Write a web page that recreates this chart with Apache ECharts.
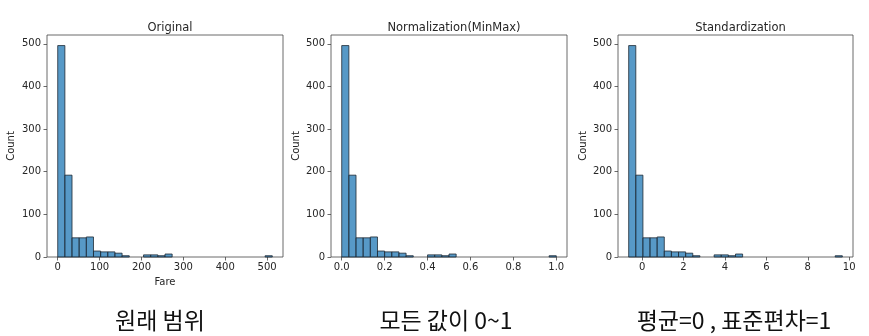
<!DOCTYPE html>
<html>
<head>
<meta charset="utf-8">
<script src="https://cdn.jsdelivr.net/npm/echarts@6/dist/echarts.min.js"></script>
<style>
html,body{margin:0;padding:0;background:#fff;}
#c{width:869px;height:336px;}
</style>
</head>
<body>
<div id="c"></div>
<script>
// Histogram counts (30 bins), same data in all three panels
const binCounts = [496, 192, 45, 45, 47, 14, 12, 12, 9, 3, 0, 0, 5, 5, 3, 7, 0, 0, 0, 0, 0, 0, 0, 0, 0, 0, 0, 0, 0, 3];
// Data ranges of each panel
const panelTitles = ['Original', 'Normalization(MinMax)', 'Standardization'];
const dataMin = [0, 0, -0.6484];
const dataMax = [512.3292, 1, 9.6670];
const xTicks = [
  [0, 100, 200, 300, 400, 500],
  [0, 0.2, 0.4, 0.6, 0.8, 1.0],
  [0, 2, 4, 6, 8, 10]
];
const xTickLabels = [
  ['0', '100', '200', '300', '400', '500'],
  ['0.0', '0.2', '0.4', '0.6', '0.8', '1.0'],
  ['0', '2', '4', '6', '8', '10']
];
const yTicks = [0, 100, 200, 300, 400, 500];
const xLabels = ['Fare', '', ''];
const captions = ['원래 범위', '모든 값이 0~1', '평균=0 , 표준편차=1'];

const gridPos = [
  {left: 47, width: 236},
  {left: 331, width: 236},
  {left: 618, width: 235}
];
const captionX = [160, 446, 734];
const countX = [11, 296, 583];
const font = 'DejaVu Sans';
const txt = '#262626';

const grids = [], xAxes = [], yAxes = [], series = [], titles = [], graphics = [];
const yMax = Math.max(...binCounts) * 1.05;

for (let p = 0; p < 3; p++) {
  const range = dataMax[p] - dataMin[p];
  const w = range / binCounts.length;
  const data = [];
  binCounts.forEach((c, i) => {
    if (c > 0) data.push([dataMin[p] + i * w, dataMin[p] + (i + 1) * w, c]);
  });
  grids.push({left: gridPos[p].left, width: gridPos[p].width, top: 35, height: 222,
    show: true, borderColor: '#444', borderWidth: 0.8, backgroundColor: 'transparent'});
  const labMap = {};
  xTicks[p].forEach((v, i) => labMap[v] = xTickLabels[p][i]);
  xAxes.push({
    type: 'value', gridIndex: p,
    min: dataMin[p] - 0.05 * range, max: dataMax[p] + 0.05 * range,
    splitLine: {show: false},
    axisLine: {show: false, onZero: false},
    axisTick: {show: true, length: 3.5, customValues: xTicks[p], lineStyle: {color: '#444', width: 0.8}},
    axisLabel: {customValues: xTicks[p], color: txt, fontFamily: font, fontSize: 10, margin: 5,
      formatter: v => { for (const k in labMap) { if (Math.abs(+k - v) < 1e-9) return labMap[k]; } return ''; }},
    name: xLabels[p], nameLocation: 'middle', nameGap: 20,
    nameTextStyle: {color: txt, fontFamily: font, fontSize: 10}
  });
  yAxes.push({
    type: 'value', gridIndex: p, min: 0, max: yMax,
    splitLine: {show: false},
    axisLine: {show: false, onZero: false},
    axisTick: {show: true, length: 3.5, customValues: yTicks, lineStyle: {color: '#444', width: 0.8}},
    axisLabel: {customValues: yTicks, color: txt, fontFamily: font, fontSize: 10, margin: 6}
  });
  series.push({
    type: 'custom', xAxisIndex: p, yAxisIndex: p, data: data,
    encode: {x: [0, 1], y: 2},
    renderItem: (params, api) => {
      const a = api.coord([api.value(0), 0]);
      const b = api.coord([api.value(1), api.value(2)]);
      return {type: 'rect', shape: {x: a[0], y: b[1], width: b[0] - a[0], height: a[1] - b[1]},
        style: {fill: 'rgba(31,119,180,0.75)', stroke: '#1f2a33', lineWidth: 0.8}};
    },
    silent: true, animation: false
  });
  titles.push({text: panelTitles[p], left: gridPos[p].left + gridPos[p].width / 2, top: 17,
    textAlign: 'center',
    textStyle: {color: txt, fontFamily: font, fontSize: 11.5, fontWeight: 'normal'}});
  graphics.push({type: 'text', x: countX[p], y: 146, rotation: Math.PI / 2,
    style: {text: 'Count', fill: txt, font: '10px "DejaVu Sans"', textAlign: 'center', textVerticalAlign: 'middle'}});
  graphics.push({type: 'text', x: captionX[p], y: 320,
    style: {text: captions[p], fill: '#111', font: '23px "Noto Sans CJK KR"', textAlign: 'center', textVerticalAlign: 'middle'}});
}

const chart = echarts.init(document.getElementById('c'), null, {renderer: 'canvas'});
chart.setOption({
  animation: false,
  backgroundColor: '#fff',
  title: titles,
  grid: grids, xAxis: xAxes, yAxis: yAxes, series: series,
  graphic: graphics
});
</script>
</body>
</html>
